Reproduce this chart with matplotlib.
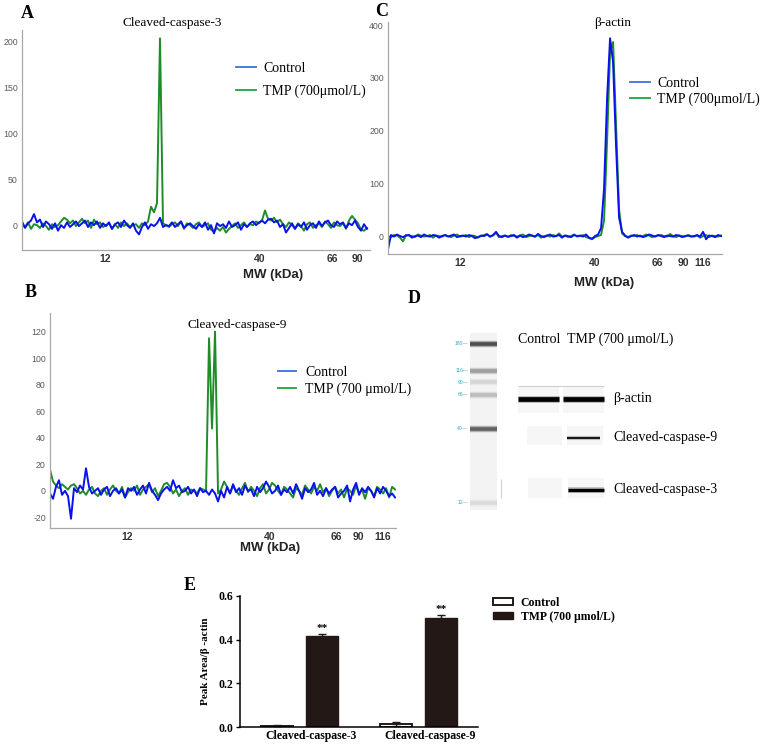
import numpy as np
import matplotlib
matplotlib.use("Agg")
import matplotlib.pyplot as plt
from matplotlib.lines import Line2D
from matplotlib.patches import Rectangle

W, H = 761, 746
SERIF = "Liberation Serif"
SANS = "Liberation Sans"
BLUE = "#0a10f0"
GREEN = "#1e8c28"
DARK = "#231815"

series_names = ["Control", "TMP (700μmol/L)"]

# electropherogram traces (signal per sample along the capillary)
a_control = [4, -3, 2, 5, 12, 3, 6, -2, 4, 1,
             -4, 2, -6, 0, -3, 3, -2, 1, 4, -1,
             2, 5, -2, 3, 0, 4, -3, 2, -1, 3,
             -4, 1, 3, -2, 5, 0, -3, 2, -6, -10,
             -2, 3, -4, 1, -1, 2, 8, -2, 0, -1,
             3, -2, 1, 4, -3, 0, 2, -1, -4, 1,
             -2, 3, -5, 0, -9, 2, -1, 1, -3, 4,
             -2, 0, 3, -5, 1, -2, 2, 4, 0, 3,
             5, 2, 6, 7, 3, 5, -2, 1, -8, -3,
             2, -4, 1, -2, 3, -5, 0, 2, -3, 4,
             -1, 3, 5, 0, -2, 4, 1, 3, -3, 2,
             0, 5, -2, -6, 1, -4]
a_tmp = [0, -2, 3, -4, 1, 0, -3, 2, -1, -5,
         1, -2, 0, 4, 8, 6, 2, 5, -1, 3,
         7, 2, 5, -3, 6, 1, 3, -2, 0, 2,
         -4, 1, -3, 3, -1, 2, -2, 0, 1, -3,
         2, 0, 4, 20, 14, 24, 203, 2, 0, -2,
         1, 3, -1, 4, -4, 2, 0, -3, 1, 3,
         -2, 0, 2, -5, -7, -3, -6, -2, -8, -4,
         -1, 2, -3, 0, 3, -2, 1, 0, 4, 2,
         5, 16, 7, 5, 8, 3, 6, 1, -2, 3,
         0, -4, 2, -1, -6, 1, 3, -3, 0, 2,
         -2, 4, 1, -3, 3, 0, -1, 2, -4, 5,
         10, 6, 2, -5, -6, -3]

b_control = [-2, -6, 3, 8, -3, 0, -4, -21, 2, -1,
             4, 1, 17, 3, -2, 0, 2, -3, 1, 3,
             -4, 0, 2, -2, 1, -5, 2, 0, 3, -3,
             1, 4, -2, 6, 0, -3, -7, -2, 1, 3,
             0, 8, 2, 4, -1, 0, 3, -2, 1, -4,
             2, -1, 0, -3, 1, -2, -8, 0, -5, 3,
             -2, 5, -1, 2, -3, 4, 0, 1, -4, 3,
             -1, 2, 7, 3, -2, 0, 4, -3, 1, -1,
             3, -2, 5, 0, -6, 2, -1, 1, 6, -3,
             0, -4, 2, -2, 1, 3, -5, -2, 0, 4,
             -8, 1, 6, -3, 2, -1, 3, 0, -5, 2,
             -2, 3, 0, -4, -2, -5]
b_tmp = [16, 7, 4, 2, 5, 3, 1, 4, 5, 2,
         -2, 0, -3, 1, 3, -2, -4, 0, 2, -3,
         1, 4, 0, -2, 3, -5, -1, 2, 0, 4,
         -3, 1, 3, 5, -1, 2, -4, 0, 5, 6,
         3, -2, 1, -4, 0, 2, -3, 1, 0, -2,
         2, 1, 0, 115, 47, 120, -2, 1, 7, 3,
         -2, 4, 0, -3, 2, 6, -1, 3, 0, -4,
         2, 5, -2, 1, 6, 4, 0, -3, 3, 1,
         -2, -5, 2, 0, -3, 4, 1, -2, 3, 0,
         5, -1, 2, -4, 0, 3, -2, 1, -5, 2,
         0, -3, 4, -2, 1, -6, 2, 0, -4, 3,
         1, -2, 2, -5, 3, 1]

c_control = [-25, 2, -1, 3, 0, -2, 1, 2, -3, 0,
             1, -2, 3, 0, -1, 2, 1, -3, 0, 2,
             -1, 1, 3, -2, 0, 1, -1, 2, 0, -4,
             -2, 1, 0, 3, -1, 2, 8, 0, -2, 1,
             -1, 0, 2, -3, 1, -2, 0, 3, 1, -1,
             4, 0, -2, 1, 3, -1, 0, 2, -3, 1,
             0, -2, 2, 0, 1, -1, 3, -3, -5, 0,
             3, 15, 90, 260, 375, 330, 170, 35, 8, 1,
             -3, 0, 2, -1, 1, -2, 0, 3, 1, -1,
             2, 0, -2, 1, 0, -1, 2, 1, -2, 0,
             1, -1, 0, 2, -1, 8, -6, 1, 0, -2,
             2, 0]
c_tmp = [0, -2, 2, 1, -3, -10, 2, 1, 0, -2,
         3, 1, -1, 0, 2, -3, 1, 0, -1, 2,
         0, -2, 1, 3, -1, 0, 2, -2, 1, 0,
         -3, 0, 2, 4, -1, 1, 6, -2, 0, 1,
         -2, 2, 0, -1, 1, 3, -2, 0, 1, -1,
         2, -3, 0, 1, -1, 2, 0, 5, -1, 1,
         -2, 0, 3, -1, 0, 2, -2, -4, -6, -2,
         0, 2, 30, 180, 350, 368, 210, 50, 5, 0,
         -2, 1, 0, 2, -1, 0, 3, 1, -2, 0,
         1, 2, 0, -1, 4, 0, -2, 1, 0, -1,
         2, 0, -1, 1, -3, 0, 2, -2, 1, 0,
         -1, 1]

# molecular weight tick labels (kDa) and sample index where they fall
a_mw = ["12", "40", "66", "90"]
a_mw_at = [27.7, 79.3, 103.3, 111.7]
b_mw = ["12", "40", "66", "90", "116"]
b_mw_at = [25.7, 73.3, 95.3, 102.7, 110.7]
c_mw = ["12", "40", "66", "90", "116"]
c_mw_at = [24.0, 68.7, 89.7, 98.3, 105.0]

# virtual blot (panel D)
ladder_kda = ["180", "116", "90", "66", "40", "12"]
ladder_shade = [0.30, 0.62, 0.84, 0.74, 0.38, 0.86]
blot_targets = ["β-actin", "Cleaved-caspase-9", "Cleaved-caspase-3"]
blot_control = [1.0, 0.0, 0.0]
blot_tmp = [1.0, 0.9, 1.0]

# panel E: peak area / beta-actin
e_groups = ["Cleaved-caspase-3", "Cleaved-caspase-9"]
e_control = [0.005, 0.013]
e_control_err = [0.002, 0.008]
e_tmp = [0.415, 0.500]
e_tmp_err = [0.010, 0.012]
e_legend = ["Control", "TMP (700 μmol/L)"]

fig = plt.figure(figsize=(W / 100, H / 100), dpi=100)


def px_axes(x0, y0, x1, y1):
    return fig.add_axes([x0 / W, 1 - y1 / H, (x1 - x0) / W, (y1 - y0) / H])


def ftext(x, y, s, **kw):
    fig.text(x / W, 1 - y / H, s, **kw)


def trace_panel(box, control, tmp, xmax, ylim, yticks, mw_at, mw, title, title_xy,
                leg_labels, leg_xy, leg_pitch, handle_len, text_pad, mw_xy):
    ax = px_axes(*box)
    ax.plot(np.arange(len(tmp)), tmp, color=GREEN, lw=1.4)
    ax.plot(np.arange(len(control)), control, color=BLUE, lw=1.4)
    ax.set_xlim(0, xmax)
    ax.set_ylim(*ylim)
    ax.set_yticks(yticks)
    ax.set_yticklabels([str(v) for v in yticks], fontfamily=SANS, fontsize=6.3, color="#5a5a5a")
    ax.set_xticks(mw_at)
    ax.set_xticklabels(mw, fontfamily=SANS, fontsize=7.5, fontweight="bold", color="#333333")
    ax.tick_params(length=0, pad=3)
    for s in ("top", "right"):
        ax.spines[s].set_visible(False)
    for s in ("left", "bottom"):
        ax.spines[s].set_color("#a8a8a8")
        ax.spines[s].set_linewidth(0.9)
    ax.patch.set_alpha(0)
    ftext(*title_xy, title, ha="center", va="center", fontfamily=SERIF, fontsize=9.5)
    ftext(*mw_xy, "MW (kDa)", ha="center", va="center", fontfamily=SANS, fontsize=9.5,
          fontweight="bold", color="#222222")
    handles = [Line2D([], [], color="#3c6fd8", lw=1.3), Line2D([], [], color="#24a03a", lw=1.3)]
    fs = 10
    ax.legend(handles, leg_labels, loc="upper left",
              bbox_to_anchor=(leg_xy[0] / W, 1 - leg_xy[1] / H), bbox_transform=fig.transFigure,
              frameon=False, borderpad=0, borderaxespad=0, handlelength=handle_len,
              handletextpad=text_pad, labelspacing=(leg_pitch - 1.17 * fs * 1.39) / (fs * 1.39),
              prop=dict(family=SERIF, size=fs))
    return ax


# panel A
trace_panel((22, 30, 370, 250), a_control, a_tmp, 116, (-27, 212), [0, 50, 100, 150, 200],
            a_mw_at, a_mw, "Cleaved-caspase-3", (172, 23), series_names,
            (236, 62), 26, 1.45, 0.5, (273, 275))
# panel C
trace_panel((388, 22, 722, 254), c_control, c_tmp, 111.3, (-34, 406), [0, 100, 200, 300, 400],
            c_mw_at, c_mw, "β-actin", (613, 23), series_names,
            (630, 77), 19, 1.45, 0.5, (604, 283))
# panel B
trace_panel((50, 313, 396, 528), b_control, b_tmp, 115.3, (-28, 134),
            [-20, 0, 20, 40, 60, 80, 100, 120],
            b_mw_at, b_mw, "Cleaved-caspase-9", (237, 325), ["Control", "TMP (700 μmol/L)"],
            (278, 366), 20, 1.3, 0.65, (270, 548))

# panel D: virtual blot
ax_d = px_axes(440, 325, 700, 515)
ax_d.set_xlim(0, 260)
ax_d.set_ylim(190, 0)
ax_d.axis("off")
ladder_x = (30, 57)
ladder_y = [19, 46, 57.5, 70, 104, 178]
ax_d.add_patch(Rectangle((ladder_x[0], 8), ladder_x[1] - ladder_x[0], 177, color="#f3f3f3", lw=0))
for kda, shade, y in zip(ladder_kda, ladder_shade, ladder_y):
    g = str(shade)
    ax_d.hlines(y, *ladder_x, color=g, lw=4.6, alpha=0.45)
    ax_d.hlines(y, *ladder_x, color=g, lw=2.6)
    ax_d.text(ladder_x[0] - 2, y, kda + "—", ha="right", va="center", fontsize=3.6,
              color="#3aa8b8", fontfamily=SANS)

target_y = [74, 113, 165]
box_y = [(61, 88), (101, 120), (153, 173)]
box_x = [[(78, 119), (123, 164)], [(87, 122), (127, 163)], [(88, 122), (128, 164)]]
band_x = [[(78, 119), (123, 164)], [(87, 122), (127, 160)], [(88, 122), (128, 164)]]
band_lw = [3.4, 1.4, 2.4]
for k, target in enumerate(blot_targets):
    y0, y1 = box_y[k]
    for j, level in enumerate([blot_control[k], blot_tmp[k]]):
        bx0, bx1 = box_x[k][j]
        ax_d.add_patch(Rectangle((bx0, y0), bx1 - bx0, y1 - y0, color="#f6f6f6", lw=0))
        if level > 0:
            x0, x1 = band_x[k][j]
            ax_d.hlines(target_y[k], x0, x1, color="black", lw=band_lw[k] + 1.6, alpha=0.25 * level)
            ax_d.hlines(target_y[k], x0, x1, color="black", lw=band_lw[k] * level)
    ax_d.text(173, target_y[k], target, ha="left", va="center", fontfamily=SERIF, fontsize=10)
ax_d.hlines(61, 78, 164, color="#cfcfcf", lw=0.8)
ax_d.vlines(61, 154, 173, color="#d0d0d0", lw=0.8)
ftext(518, 339, "Control  TMP (700 μmol/L)", ha="left", va="center", fontfamily=SERIF, fontsize=10)

# panel E: bar chart
ax_e = px_axes(240, 596, 478, 727)
x = np.arange(len(e_groups))
bw, off = 0.265, 0.187
ax_e.bar(x - off, e_control, bw, yerr=e_control_err, color="white", edgecolor=DARK, lw=1.4,
         capsize=3, error_kw=dict(lw=1, capthick=1, ecolor=DARK))
ax_e.bar(x + off, e_tmp, bw, yerr=e_tmp_err, color=DARK, edgecolor=DARK, lw=1.0,
         capsize=3, error_kw=dict(lw=1, capthick=1, ecolor=DARK))
for xi, v, err in zip(x, e_tmp, e_tmp_err):
    ax_e.text(xi + off, v + err + 0.004, "**", ha="center", va="bottom", fontfamily=SERIF,
              fontsize=8, fontweight="bold")
ax_e.set_xlim(-0.5, 1.5)
ax_e.set_ylim(0, 0.6)
ax_e.set_yticks([0.0, 0.2, 0.4, 0.6])
ax_e.set_yticklabels(["0.0", "0.2", "0.4", "0.6"], fontfamily=SERIF, fontsize=8.5, fontweight="bold")
ax_e.set_xticks(x + 0.1)
ax_e.set_xticklabels(e_groups, fontfamily=SERIF, fontsize=8.5, fontweight="bold")
ax_e.tick_params(axis="y", length=3, width=1, pad=2)
ax_e.tick_params(axis="x", length=0, pad=2)
for s in ("top", "right"):
    ax_e.spines[s].set_visible(False)
for s in ("left", "bottom"):
    ax_e.spines[s].set_linewidth(1.1)
ax_e.set_ylabel("Peak Area/β -actin", fontfamily=SERIF, fontsize=8, fontweight="bold", labelpad=6)
e_handles = [Rectangle((0, 0), 1, 1, facecolor="white", edgecolor=DARK, lw=1.4),
             Rectangle((0, 0), 1, 1, facecolor=DARK, edgecolor=DARK)]
ax_e.legend(e_handles, e_legend, loc="upper left", bbox_to_anchor=(493 / W, 1 - 597 / H),
            bbox_transform=fig.transFigure, frameon=False, borderpad=0, borderaxespad=0,
            handlelength=1.7, handleheight=0.5, handletextpad=0.65, labelspacing=0.15,
            prop=dict(family=SERIF, size=8.5, weight="bold"))

# panel letters
for letter, (lx, ly) in zip("ABCDE", [(27, 13), (31, 292), (382, 12), (414, 298), (190, 585)]):
    ftext(lx, ly, letter, ha="center", va="center", fontfamily=SERIF, fontsize=13, fontweight="bold")

fig.savefig("out.png", dpi=100)
